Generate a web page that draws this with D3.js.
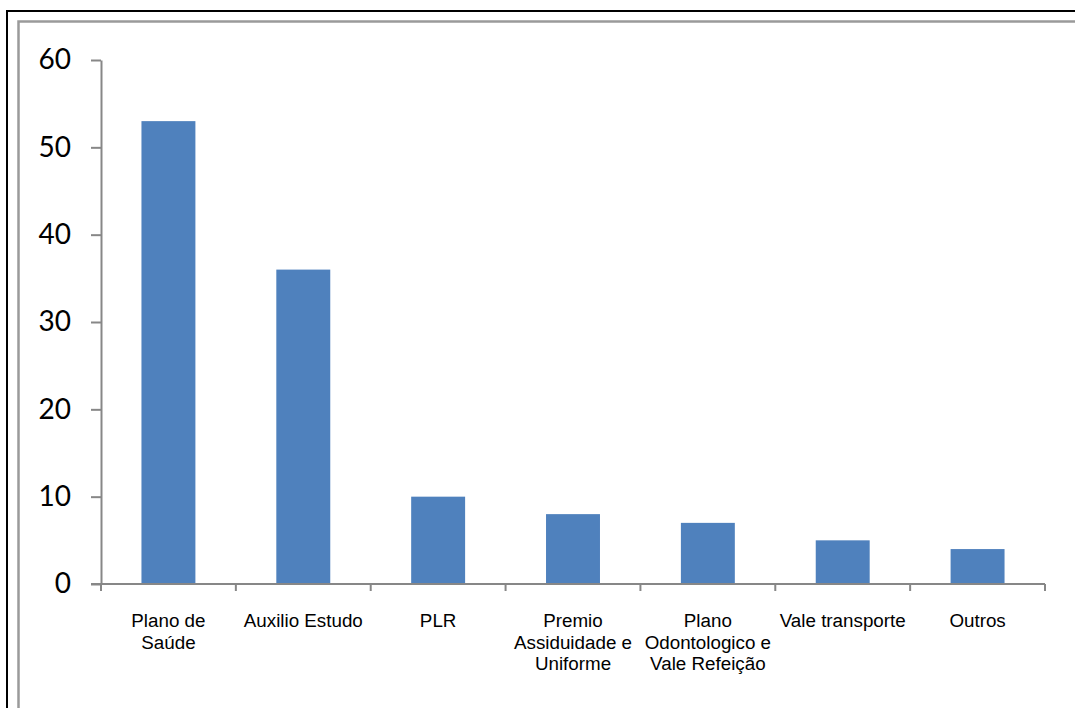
<!DOCTYPE html>
<html>
<head>
<meta charset="utf-8">
<script src="https://cdn.jsdelivr.net/npm/d3@7/dist/d3.min.js"></script>
<style>
  html, body { margin: 0; padding: 0; background: #fff; }
  svg { display: block; font-family: "Liberation Sans", Arial, sans-serif; }
</style>
</head>
<body>
<svg id="chart" width="1075" height="708"></svg>
<script>
// Benefits mentioned (count per benefit)
const categories = [
  "Plano de Saúde",
  "Auxilio Estudo",
  "PLR",
  "Premio Assiduidade e Uniforme",
  "Plano Odontologico e Vale Refeição",
  "Vale transporte",
  "Outros"
];
const values = [53, 36, 10, 8, 7, 5, 4];
// Wrapped label lines for each category
const labelLines = [
  ["Plano de", "Saúde"],
  ["Auxilio Estudo"],
  ["PLR"],
  ["Premio", "Assiduidade e", "Uniforme"],
  ["Plano", "Odontologico e", "Vale Refeição"],
  ["Vale transporte"],
  ["Outros"]
];
const yTicks = [0, 10, 20, 30, 40, 50, 60];

const svg = d3.select("#chart");

// Outer frame and chart-area border
svg.append("rect")
  .attr("x", 7).attr("y", 11)
  .attr("width", 1100).attr("height", 720)
  .attr("fill", "none").attr("stroke", "#000").attr("stroke-width", 2);
svg.append("rect")
  .attr("x", 18.5).attr("y", 21.5)
  .attr("width", 1100).attr("height", 720)
  .attr("fill", "none").attr("stroke", "#9a9a9a").attr("stroke-width", 2.5);

const x = d3.scaleBand()
  .domain(categories)
  .range([101, 1045])
  .paddingInner(0.6)
  .paddingOuter(0.3);

const y = d3.scaleLinear()
  .domain([0, 60])
  .range([584, 60]);

const axisColor = "#878787";

// Bars
svg.append("g")
  .selectAll("rect")
  .data(categories)
  .join("rect")
  .attr("x", d => x(d))
  .attr("width", x.bandwidth())
  .attr("y", (d, i) => y(values[i]))
  .attr("height", (d, i) => y(0) - y(values[i]))
  .attr("fill", "#4f81bd");

// Y axis
const yAxis = svg.append("g")
  .attr("transform", "translate(101,0)")
  .call(d3.axisLeft(y).tickValues(yTicks).tickSize(10).tickSizeOuter(0).tickPadding(20));
yAxis.select(".domain").attr("stroke", axisColor).attr("stroke-width", 2);
yAxis.selectAll(".tick line").attr("stroke", axisColor).attr("stroke-width", 2);
yAxis.selectAll(".tick text")
  .attr("fill", "#000")
  .style("font-size", "28px")
  .style("font-family", "Lato, 'Liberation Sans', Arial, sans-serif");

// X axis baseline with tick marks at category boundaries
const step = x.step();
const x0 = x.range()[0];
const boundaries = d3.range(categories.length + 1).map(i => x0 + i * step);
svg.append("line")
  .attr("x1", x0 - 10).attr("x2", x.range()[1])
  .attr("y1", y(0)).attr("y2", y(0))
  .attr("stroke", axisColor).attr("stroke-width", 2);
svg.append("g")
  .selectAll("line")
  .data(boundaries)
  .join("line")
  .attr("x1", d => d).attr("x2", d => d)
  .attr("y1", y(0)).attr("y2", y(0) + 7)
  .attr("stroke", axisColor).attr("stroke-width", 2);

// Category labels
const labels = svg.append("g")
  .selectAll("text")
  .data(categories)
  .join("text")
  .attr("text-anchor", "middle")
  .attr("fill", "#000")
  .style("font-size", "18.8px")
  .attr("x", d => x(d) + x.bandwidth() / 2)
  .attr("y", 627);
labels.each(function (d, i) {
  const t = d3.select(this);
  labelLines[i].forEach((line, j) => {
    t.append("tspan")
      .attr("x", x(d) + x.bandwidth() / 2)
      .attr("y", 627 + j * 21.7)
      .text(line);
  });
});
</script>
</body>
</html>
